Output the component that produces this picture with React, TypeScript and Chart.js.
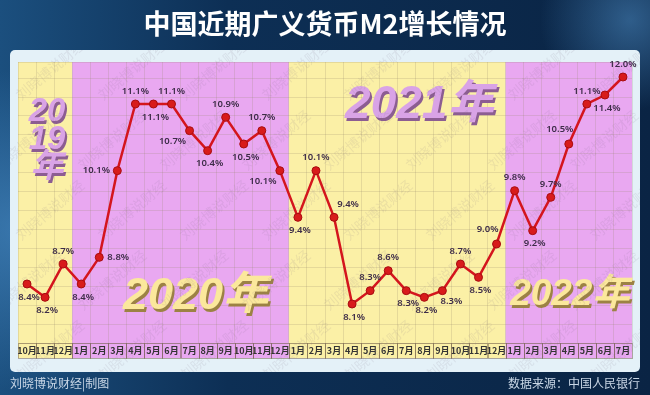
import React, { useEffect, useRef } from 'react';
import { Chart, registerables, LinearScale } from 'chart.js';

// ---------- data ----------
const monthLabels = [
  '10月', '11月', '12月',
  '1月', '2月', '3月', '4月', '5月', '6月', '7月', '8月', '9月', '10月', '11月', '12月',
  '1月', '2月', '3月', '4月', '5月', '6月', '7月', '8月', '9月', '10月', '11月', '12月',
  '1月', '2月', '3月', '4月', '5月', '6月', '7月',
];
const m2Growth = [
  8.4, 8.2, 8.7,
  8.4, 8.8, 10.1, 11.1, 11.1, 11.1, 10.7, 10.4, 10.9, 10.5, 10.7, 10.1,
  9.4, 10.1, 9.4, 8.1, 8.3, 8.6, 8.3, 8.2, 8.3, 8.7, 8.5, 9.0,
  9.8, 9.2, 9.7, 10.5, 11.1, 11.4, 12.0,
];
const yearNames = ['2019年', '2020年', '2021年', '2022年'];
const monthsPerYear = [3, 12, 12, 7];

const titleText = '中国近期广义货币M2增长情况';
const creditText = '刘晓博说财经|制图';
const sourceText = '数据来源：中国人民银行';
const watermarkText = '刘晓博说财经';

// ---------- styles ----------
const labelPlacement = [
  'b', 'b', 't',
  'b', 'r', 'l', 't', 'b', 't', 'bl', 'b', 't', 'b', 't', 'bl',
  'b', 't', 'tr', 'b', 't', 't', 'b', 'b', 'br', 't', 'b', 'tl',
  't', 'b', 't', 'tl', 't', 'b', 't',
];
const placementOffset: Record<string, [number, number]> = {
  b: [2, 13], t: [0, -13], r: [19, 0], l: [-21, 0],
  bl: [-17, 11], br: [9, 11], tl: [-9, -15], tr: [14, -13],
};
const bandColors = ['#fbf0a6', '#e9a8f1', '#fbf0a6', '#e9a8f1'];
const yearTextStyle = [
  { color: '#d9a3e6', shadow: '#8c5d92', size: 33, dx: 2, fy: 0.0, vertical: true },
  { color: '#fbe89c', shadow: '#9c8244', size: 45, dx: 15, fy: 0.835, vertical: false },
  { color: '#d9a3e6', shadow: '#8c5d92', size: 46, dx: 22, fy: 0.155, vertical: false },
  { color: '#fbe89c', shadow: '#9c8244', size: 37, dx: 1, fy: 0.83, vertical: false },
];
const BREAK_VALUE = 11.1;
const COMPRESS = 0.45;
const CJK = '"Noto Sans CJK SC", "Noto Sans", sans-serif';

class CompressedLinearScale extends LinearScale {
  static id = 'compressedLinear';
  static defaults = LinearScale.defaults;
  getPixelForValue(value: number) {
    const v = value > BREAK_VALUE ? BREAK_VALUE + (value - BREAK_VALUE) * COMPRESS : value;
    return super.getPixelForValue(v);
  }
  getValueForPixel(pixel: number) {
    const v = super.getValueForPixel(pixel) as number;
    return v > BREAK_VALUE ? BREAK_VALUE + (v - BREAK_VALUE) / COMPRESS : v;
  }
}

Chart.register(...registerables, CompressedLinearScale);

const LABEL_ROW = 15;

function bandRanges(chart: any) {
  const x = chart.scales.x;
  const half = (x.getPixelForValue(1) - x.getPixelForValue(0)) / 2;
  const out: { l: number; r: number }[] = [];
  let start = 0;
  monthsPerYear.forEach((n) => {
    out.push({ l: x.getPixelForValue(start) - half, r: x.getPixelForValue(start + n - 1) + half });
    start += n;
  });
  return { out, half };
}

const backdropPlugin = {
  id: 'backdrop',
  beforeDraw(chart: any) {
    const { ctx, width, height, chartArea } = chart;
    ctx.save();
    const g = ctx.createLinearGradient(0, 0, width, 0);
    g.addColorStop(0, '#1b4f7e');
    g.addColorStop(0.35, '#0d2f55');
    g.addColorStop(1, '#0a2444');
    ctx.fillStyle = g;
    ctx.fillRect(0, 0, width, height);
    const rg = ctx.createRadialGradient(20, 230, 5, 20, 230, 160);
    rg.addColorStop(0, 'rgba(80,150,210,0.55)');
    rg.addColorStop(1, 'rgba(80,150,210,0)');
    ctx.fillStyle = rg;
    ctx.fillRect(0, 0, width, height);
    const rg2 = ctx.createRadialGradient(630, 20, 2, 630, 20, 90);
    rg2.addColorStop(0, 'rgba(90,160,220,0.45)');
    rg2.addColorStop(1, 'rgba(90,160,220,0)');
    ctx.fillStyle = rg2;
    ctx.fillRect(0, 0, width, height);

    // title
    ctx.fillStyle = '#ffffff';
    ctx.font = `bold 27px ${CJK}`;
    ctx.textAlign = 'center';
    ctx.textBaseline = 'middle';
    ctx.fillText(titleText, width / 2, 24);

    // footer
    ctx.font = `12px ${CJK}`;
    ctx.fillStyle = '#c9d7e6';
    ctx.textAlign = 'left';
    ctx.fillText(creditText, 10, 383);
    ctx.textAlign = 'right';
    ctx.fillText(sourceText, 640, 383);

    // card
    ctx.fillStyle = '#e4f1f8';
    ctx.beginPath();
    ctx.roundRect(10, 50, 630, 322, 5);
    ctx.fill();

    // year bands
    const { out } = bandRanges(chart);
    out.forEach((b, i) => {
      ctx.fillStyle = bandColors[i];
      ctx.fillRect(b.l, chartArea.top, b.r - b.l, chartArea.bottom - chartArea.top + LABEL_ROW);
    });
    ctx.restore();
  },
};

const decorPlugin = {
  id: 'decor',
  beforeDatasetsDraw(chart: any) {
    const { ctx, chartArea } = chart;
    const x = chart.scales.x;
    const { out, half } = bandRanges(chart);
    ctx.save();
    // label row cells
    ctx.strokeStyle = 'rgba(110,90,70,0.5)';
    ctx.lineWidth = 1;
    monthLabels.forEach((_, i) => {
      const cx = x.getPixelForValue(i);
      ctx.strokeRect(Math.round(cx - half) + 0.5, chartArea.bottom + 0.5, Math.round(half * 2), LABEL_ROW);
    });

    // big year texts
    const h = chartArea.bottom - chartArea.top;
    out.forEach((b, i) => {
      const st = yearTextStyle[i];
      const cx = (b.l + b.r) / 2 + st.dx;
      ctx.font = `italic bold ${st.size}px "Liberation Sans", Arial, ${CJK}`;
      ctx.textAlign = 'center';
      ctx.textBaseline = 'middle';
      const draw = (t: string, yy: number) => {
        ctx.fillStyle = st.shadow;
        ctx.fillText(t, cx + 2, yy + 2.5);
        ctx.fillStyle = st.color;
        ctx.fillText(t, cx, yy);
      };
      if (st.vertical) {
        const name = yearNames[i];
        const parts = [name.slice(0, 2), name.slice(2, 4), name.slice(4)];
        parts.forEach((p, k) => draw(p, chartArea.top + 50 + k * 28));
      } else {
        draw(yearNames[i], chartArea.top + h * st.fy);
      }
    });

    // watermark
    ctx.beginPath();
    ctx.rect(10, 50, 630, 322);
    ctx.clip();
    ctx.fillStyle = 'rgba(120,110,130,0.12)';
    ctx.font = `14px ${CJK}`;
    ctx.textAlign = 'center';
    for (let wy = 70; wy < 390; wy += 70) {
      for (let wx = 30; wx < 660; wx += 82) {
        ctx.save();
        ctx.translate(wx + ((wy / 70) % 2) * 20, wy);
        ctx.rotate(-0.7);
        ctx.fillText(watermarkText, 0, 0);
        ctx.restore();
      }
    }
    ctx.restore();
  },
  afterDatasetsDraw(chart: any) {
    const { ctx } = chart;
    const meta = chart.getDatasetMeta(0);
    ctx.save();
    ctx.font = `600 9.5px "Noto Sans", sans-serif`;
    ctx.fillStyle = '#3d2c48';
    ctx.textAlign = 'center';
    ctx.textBaseline = 'middle';
    meta.data.forEach((pt: any, i: number) => {
      const [dx, dy] = placementOffset[labelPlacement[i]] || [0, -13];
      ctx.fillText(m2Growth[i].toFixed(1) + '%', pt.x + dx, pt.y + dy);
    });
    ctx.restore();
  },
};

export default function App() {
  const ref = useRef<HTMLCanvasElement | null>(null);
  useEffect(() => {
    document.body.style.margin = '0';
    if (!ref.current) return;
    const gridColor = 'rgba(150,135,110,0.22)';
    const chart = new Chart(ref.current, {
      type: 'line',
      data: {
        labels: monthLabels,
        datasets: [
          {
            data: m2Growth,
            borderColor: '#d4151d',
            borderWidth: 2.5,
            pointRadius: 4,
            pointBackgroundColor: '#d81b1b',
            pointBorderColor: '#a80c10',
            pointBorderWidth: 1,
            tension: 0,
            clip: false as any,
          },
        ],
      },
      options: {
        animation: false,
        responsive: true,
        maintainAspectRatio: false,
        layout: { padding: { left: 18, right: 18, top: 62, bottom: 37 } },
        plugins: { legend: { display: false }, tooltip: { enabled: false }, title: { display: false } },
        scales: {
          x: {
            type: 'category',
            offset: true,
            grid: { offset: true, color: gridColor, drawTicks: false },
            border: { display: false },
            ticks: {
              autoSkip: false,
              maxRotation: 0,
              padding: 2,
              color: '#333333',
              font: { size: 9, weight: 'bold', family: CJK },
            },
            afterFit: (s: any) => { s.height = LABEL_ROW; },
          },
          y: {
            type: 'compressedLinear' as any,
            display: false,
            min: 7.515,
            max: 11.73,
          },
          grid2: {
            type: 'linear',
            position: 'left',
            min: 0,
            max: 14.85,
            grid: { color: gridColor, drawTicks: false },
            border: { display: false },
            ticks: { display: false, stepSize: 1 },
            afterFit: (s: any) => { s.width = 0; },
          },
        },
      },
      plugins: [backdropPlugin, decorPlugin],
    });
    return () => chart.destroy();
  }, []);
  return (
    <div style={{ width: 650, height: 395, position: 'relative' }}>
      <canvas ref={ref} />
    </div>
  );
}
